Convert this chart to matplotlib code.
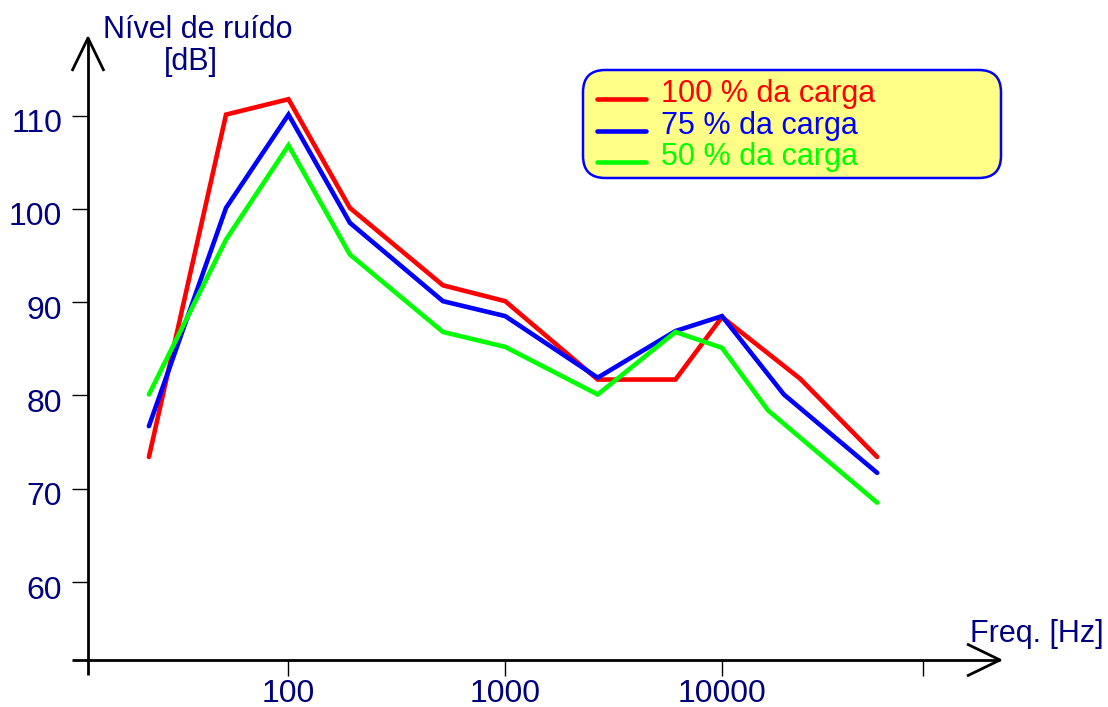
import matplotlib
matplotlib.use('Agg')
import matplotlib.pyplot as plt
from matplotlib.patches import FancyBboxPatch
from matplotlib.transforms import ScaledTranslation

plt.rcParams['font.family'] = ['Liberation Sans', 'DejaVu Sans']

# ---- data ----
freq_100 = [22.7, 51.5, 100, 192, 516, 1000, 2670, 6100, 10000, 22900, 52000]
level_100 = [73.4, 110.1, 111.75, 100.1, 91.8, 90.1, 81.7, 81.7, 88.4, 81.8, 73.4]
freq_75 = [22.7, 51.5, 100, 192, 516, 1000, 2670, 6100, 10000, 19300, 52000]
level_75 = [76.7, 100.1, 110.1, 98.5, 90.1, 88.5, 81.9, 86.9, 88.5, 80.1, 71.7]
freq_50 = [22.7, 51.5, 100, 192, 516, 1000, 2670, 6100, 10000, 16300, 52000]
level_50 = [80.1, 96.7, 106.8, 95.1, 86.8, 85.2, 80.1, 86.8, 85.1, 78.4, 68.5]
series_labels = ['100 % da carga', '75 % da carga', '50 % da carga']
series_colors = ['#ff0000', '#0000ff', '#00ff00']
xticks = [100, 1000, 10000, 84600]
xtick_labels = ['100', '1000', '10000', '']
yticks = [60, 70, 80, 90, 100, 110]
ytick_labels = ['60', '70', '80', '90', '100', '110']

W, H = 1108, 707
TXT = '#000080'
fig = plt.figure(figsize=(W / 100, H / 100), dpi=100)
L, R, B, T = 88, 1000, 660, 38
ax = fig.add_axes([L / W, (H - B) / H, (R - L) / W, (B - T) / H])
ax.set_xscale('log')
ax.set_xlim(10 ** 1.075, 10 ** (4 + 278 / 216.75))
ax.set_ylim(51.64, 118.31)

lines = []
for fx, ly, lab, col in zip([freq_100, freq_75, freq_50],
                            [level_100, level_75, level_50],
                            series_labels, series_colors):
    ln, = ax.plot(fx, ly, color=col, lw=3.3, label=lab,
                  solid_joinstyle='miter', solid_capstyle='round')
    lines.append(ln)

for s in ax.spines.values():
    s.set_visible(False)
ax.set_xticks(xticks)
ax.set_xticklabels(xtick_labels)
ax.set_xticks([], minor=True)
ax.set_yticks(yticks)
ax.set_yticklabels(ytick_labels)
ax.tick_params(axis='both', which='major', length=11.5, width=1.0, color='black',
               labelcolor=TXT, labelsize=23)
ax.tick_params(axis='x', pad=2)
ax.tick_params(axis='y', pad=7)
for lbl in ax.get_yticklabels():
    lbl.set_transform(lbl.get_transform() + ScaledTranslation(0, -5 / 100, fig.dpi_scale_trans))

# axis lines with open arrow heads (axes coordinates)
pw, ph = R - L, B - T
kw = dict(transform=ax.transAxes, color='black', lw=2.0, clip_on=False,
          solid_capstyle='butt')
ax.plot([-16 / pw, 1], [0, 0], **kw)
ax.plot([0, 0], [-15 / ph, 1], **kw)
ax.plot([-16 / pw, 0, 16 / pw], [1 - 33 / ph, 1, 1 - 33 / ph], **kw)
ax.plot([1 - 33 / pw, 1, 1 - 33 / pw], [16 / ph, 0, -16 / ph], **kw)

# axis titles
fig.text(198 / W, 1 - 30 / H, 'Nível de ruído', ha='center', va='center',
         color=TXT, fontsize=22)
fig.text(191 / W, 1 - 62 / H, '[dB]', ha='center', va='center',
         color=TXT, fontsize=22)
fig.text(1104 / W, 1 - 634 / H, 'Freq. [Hz]', ha='right', va='center',
         color=TXT, fontsize=22)

# legend: rounded yellow box + legend entries
x0, y0, x1, y1 = 583, 70, 1001, 178
box = FancyBboxPatch((x0 / W, 1 - y1 / H), (x1 - x0) / W, (y1 - y0) / H,
                     boxstyle='round,pad=0,rounding_size=0.02',
                     mutation_aspect=W / H,
                     transform=fig.transFigure, facecolor='#ffff88',
                     edgecolor='#0000ff', lw=1.8, zorder=4, clip_on=False)
ax.add_patch(box)
leg = ax.legend(handles=lines, loc='upper left',
                bbox_to_anchor=(597 / W, 1 - 79 / H),
                bbox_transform=fig.transFigure, borderaxespad=0, borderpad=0,
                fontsize=22, labelcolor='linecolor', handlelength=1.6,
                handletextpad=0.5, labelspacing=0.05, frameon=False)
leg.set_zorder(5)
for h in leg.legend_handles:
    h.set_transform(h.get_transform() + ScaledTranslation(0, -8 / 100, fig.dpi_scale_trans))

fig.savefig('out.png', dpi=100)
